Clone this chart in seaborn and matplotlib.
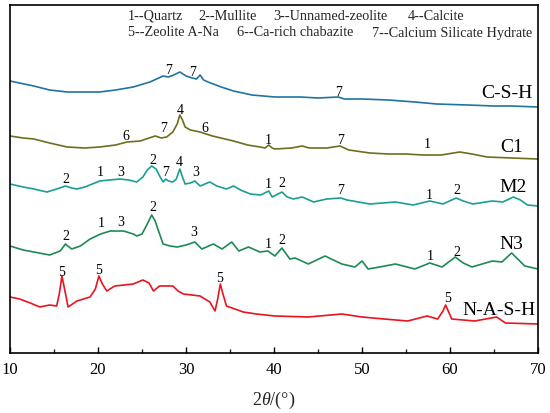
import matplotlib
matplotlib.use("Agg")
import matplotlib.pyplot as plt
import seaborn as sns
import pandas as pd
import numpy as np

# ---- data (2theta in degrees, intensity in arbitrary offset units) ----
csh_x = [10.0, 12.7, 14.5, 16.5, 18.5, 20.2, 22.0, 24.0, 25.9, 27.4, 28.0, 28.6, 29.3, 30.0, 30.7,
         31.2, 31.6, 32.0, 32.5, 34.0, 35.4, 37.5, 40.1, 43.0, 45.0, 47.3, 48.0, 50.0, 53.0, 56.0,
         58.5, 62.0, 65.0, 67.0, 70.0]
csh_y = [272, 267, 263, 261, 261, 261, 263, 266, 271, 277, 276, 278, 281, 277, 275,
         274, 278, 273, 271, 266, 262, 258, 256, 256, 255, 256, 254, 254, 253, 251,
         249, 248, 247, 247, 246]

c1_x = [10.0, 11.5, 12.7, 14.5, 16.5, 18.5, 20.2, 22.0, 23.3, 24.8, 25.8, 26.5, 27.2, 27.8, 28.5,
        29.0, 29.3, 29.6, 29.9, 30.5, 31.6, 33.0, 35.4, 37.0, 38.4, 39.0, 39.4, 39.8, 40.1, 42.0,
        43.2, 44.0, 46.0, 47.5, 48.5, 50.9, 53.0, 55.0, 56.9, 59.0, 61.1, 62.5, 64.2, 67.0, 70.0]
c1_y = [217, 215, 214, 210, 206, 205, 206, 208, 211, 212, 215, 217, 215, 216, 221,
        229, 238, 233, 226, 223, 221, 217, 212, 208, 206, 205, 208, 205, 204, 205,
        207, 205, 205, 207, 203, 200, 199, 199, 198, 198, 201, 199, 196, 195, 194]

m2_x = [10.0, 11.5, 12.7, 14.2, 15.3, 16.3, 17.0, 17.6, 18.5, 20.2, 21.3, 22.5, 23.5, 24.4, 25.1,
        25.6, 26.1, 26.6, 27.0, 27.4, 27.7, 28.0, 28.5, 28.9, 29.3, 29.6, 29.9, 30.5, 31.0, 31.6,
        32.7, 33.5, 34.6, 35.4, 36.2, 37.3, 38.5, 39.4, 39.8, 40.9, 41.5, 42.2, 43.2, 44.5, 46.0,
        47.6, 48.3, 50.9, 53.8, 55.8, 57.7, 59.2, 60.7, 61.5, 62.6, 64.8, 66.0, 67.2, 68.0, 68.8, 70.0]
m2_y = [169, 166, 164, 161, 164, 167, 165, 164, 166, 172, 173, 174, 173, 171, 176,
        183, 187, 184, 177, 171, 174, 172, 171, 174, 184, 176, 169, 170, 172, 167,
        171, 167, 164, 167, 163, 159, 158, 162, 156, 161, 156, 154, 156, 151, 154,
        155, 153, 149, 151, 148, 152, 149, 155, 152, 149, 152, 151, 156, 153, 148, 147]

n3_x = [10.0, 11.5, 12.7, 14.5, 15.7, 16.3, 17.0, 18.0, 19.1, 20.3, 21.4, 22.9, 24.0, 24.4, 25.0,
        25.6, 26.1, 26.5, 26.8, 27.4, 28.2, 29.0, 30.0, 31.0, 31.8, 33.1, 34.1, 35.2, 36.0, 37.1,
        38.4, 39.3, 40.1, 40.9, 41.8, 42.4, 43.9, 45.8, 47.7, 49.2, 50.0, 50.7, 52.0, 53.8, 56.0,
        57.7, 59.1, 60.6, 61.5, 62.5, 64.8, 65.9, 67.0, 68.5, 70.0]
n3_y = [107, 103, 101, 98, 102, 109, 104, 107, 114, 119, 122, 122, 119, 117, 119,
        129, 138, 132, 124, 109, 107, 106, 108, 111, 104, 109, 104, 111, 102, 106,
        101, 102, 97, 105, 94, 95, 89, 97, 89, 86, 92, 84, 86, 89, 84,
        90, 86, 96, 90, 86, 92, 91, 100, 87, 84]

nash_x = [10.0, 11.1, 12.3, 13.4, 14.5, 15.3, 15.6, 15.9, 16.2, 16.6, 17.6, 19.1, 19.7, 20.1, 20.5,
          21.0, 21.9, 23.0, 24.0, 25.1, 25.8, 26.3, 27.0, 28.5, 29.1, 29.7, 31.6, 32.7, 33.3, 33.6,
          33.9, 34.2, 34.6, 36.5, 38.0, 40.1, 43.9, 47.7, 50.0, 52.5, 55.2, 57.4, 58.6, 59.2, 59.5,
          59.9, 60.2, 62.8, 65.3, 66.3, 70.0]
nash_y = [56, 54, 50, 46, 48, 47, 59, 77, 64, 46, 52, 56, 64, 77, 69,
          62, 67, 68, 69, 73, 70, 62, 67, 67, 62, 59, 57, 51, 42, 54,
          69, 59, 47, 41, 39, 37, 36, 39, 36, 34, 32, 37, 34, 42, 48,
          40, 34, 32, 36, 30, 29]

series_names = ["C-S-H", "C1", "M2", "N3", "N-A-S-H"]
series_colors = ["#1f74a0", "#6e6e1e", "#1a9e94", "#1d8a55", "#e8141e"]

# peak markers: (2theta, intensity, label)
csh_peaks = [(28.0, 283, "7"), (30.7, 282, "7"), (47.3, 262, "7")]
c1_peaks = [(23.2, 217, "6"), (27.5, 226, "7"), (29.3, 244, "4"), (32.1, 226, "6"),
            (39.4, 214, "1"), (47.6, 214, "7"), (57.4, 209, "1")]
m2_peaks = [(16.3, 174, "2"), (20.2, 181, "1"), (22.6, 181, "3"), (26.2, 193, "2"),
            (27.7, 181, "7"), (29.2, 191, "4"), (31.1, 181, "3"), (39.3, 169, "1"),
            (40.9, 170, "2"), (47.6, 163, "7"), (57.6, 158, "1"), (60.8, 163, "2")]
n3_peaks = [(16.4, 117, "2"), (20.4, 130, "1"), (22.6, 131, "3"), (26.2, 146, "2"),
            (30.9, 121, "3"), (39.4, 109, "1"), (40.9, 113, "2"), (57.7, 97, "1"), (60.8, 101, "2")]
nash_peaks = [(15.9, 81, "5"), (20.1, 84, "5"), (33.8, 75, "5"), (59.7, 55, "5")]

label_pos = [(69.4, 261), (68.3, 207), (68.75, 166), (68.3, 109), (69.7, 43)]

legend_line1 = [(128, "1--Quartz"), (198, "2--Mullite"), (273, "3--Unnamed-zeolite"), (408, "4--Calcite")]
legend_line2 = [(128, "5--Zeolite A-Na"), (237, "6--Ca-rich chabazite"), (372, "7--Calcium Silicate Hydrate")]

xticks = [10, 20, 30, 40, 50, 60, 70]

# ---- build table ----
xs = [csh_x, c1_x, m2_x, n3_x, nash_x]
ys = [csh_y, c1_y, m2_y, n3_y, nash_y]
frames = []
for name, x, y in zip(series_names, xs, ys):
    frames.append(pd.DataFrame({"theta": x, "intensity": y, "sample": name}))
df = pd.concat(frames, ignore_index=True)

sns.set_theme(style="ticks")
plt.rcParams["font.family"] = ["Liberation Serif", "DejaVu Serif"]
plt.rcParams["mathtext.fontset"] = "custom"
plt.rcParams["mathtext.rm"] = "Liberation Serif"
plt.rcParams["mathtext.it"] = "Liberation Serif:italic"

W, H = 550, 414
fig = plt.figure(figsize=(W / 100, H / 100), dpi=100)
ax = fig.add_axes([10 / W, (H - 354) / H, (538 - 10) / W, (354 - 6) / H])

sns.lineplot(data=df, x="theta", y="intensity", hue="sample", palette=series_colors,
             hue_order=series_names, ax=ax, linewidth=1.2, legend=False, sort=False,
             estimator=None)

ax.set_xlim(10, 70)
ax.set_ylim(0, 348)
ax.set_xticks(xticks)
ax.set_xticklabels([str(t) for t in xticks], fontsize=12)
ax.set_xticks([15, 25, 35, 45, 55, 65], minor=True)
ax.set_yticks([])
ax.tick_params(axis="x", which="major", direction="in", length=4, width=1, pad=6, colors="black")
ax.tick_params(axis="x", which="minor", direction="in", length=3, width=1)
for sp in ax.spines.values():
    sp.set_visible(True)
    sp.set_linewidth(1.2)
    sp.set_color("black")
ax.set_xlabel(r"$2\theta$/(°)", fontsize=13, labelpad=8)
ax.set_ylabel("")

for peaks in [csh_peaks, c1_peaks, m2_peaks, n3_peaks, nash_peaks]:
    for px, py, lab in peaks:
        ax.text(px, py, lab, fontsize=10, ha="center", va="center", color="black")

for name, (lx, ly) in zip(series_names, label_pos):
    ax.text(lx, ly, name, fontsize=14, ha="right", va="center", color="black")

for xp, t in legend_line1:
    fig.text(xp / W, 1 - 16 / H, t, fontsize=10.3, ha="left", va="center")
for xp, t in legend_line2:
    fig.text(xp / W, 1 - 33 / H, t, fontsize=10.3, ha="left", va="center")

fig.savefig("out.png", dpi=100, facecolor="white")
